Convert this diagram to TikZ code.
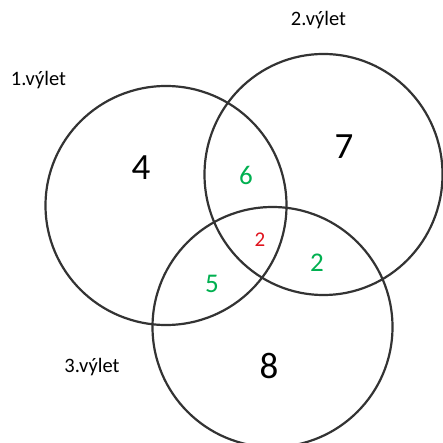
\documentclass[tikz,border=0pt]{standalone}
\usepackage{fontspec}
\setmainfont{Carlito}
\definecolor{vgreen}{HTML}{00B050}
\definecolor{vred}{HTML}{E0141E}
\begin{document}
\begin{tikzpicture}[x=1pt,y=-1pt,
  ring/.style={draw=black!80,line width=2.2pt},
  lbl/.style={font=\fontsize{20.5}{24}\selectfont,text=black,inner sep=0pt},
  big/.style={font=\fontsize{37}{44}\selectfont,text=black,inner sep=0pt},
  mid/.style={font=\fontsize{27}{32}\selectfont,text=vgreen,inner sep=0pt},
  small/.style={font=\fontsize{21}{25}\selectfont,text=vred,inner sep=0pt}]
\useasboundingbox[fill=white] (0,0) rectangle (443,443);
\begin{scope}
\clip (0,0) rectangle (443,443);
\draw[ring] (166,205.5) ellipse [x radius=120.5,y radius=119.5];
\draw[ring] (323.5,174.5) ellipse [x radius=119,y radius=120.5];
\draw[ring] (272.5,327) ellipse [x radius=120,y radius=120];
\end{scope}
\node[lbl] (l1) at (38.5,80) {1.výlet};
\node[lbl] (l2) at (318.5,20) {2.výlet};
\node[lbl] (l3) at (92,367) {3.výlet};
\node[big] (n4) at (141,168) {4};
\node[big] (n7) at (344,147) {7};
\node[big] (n8) at (269,366) {8};
\node[mid] (n6) at (246,175) {6};
\node[mid] (n5) at (212,284) {5};
\node[mid] (n2g) at (317,263) {2};
\node[small] (n2r) at (260,240) {2};
\end{tikzpicture}
\end{document}
